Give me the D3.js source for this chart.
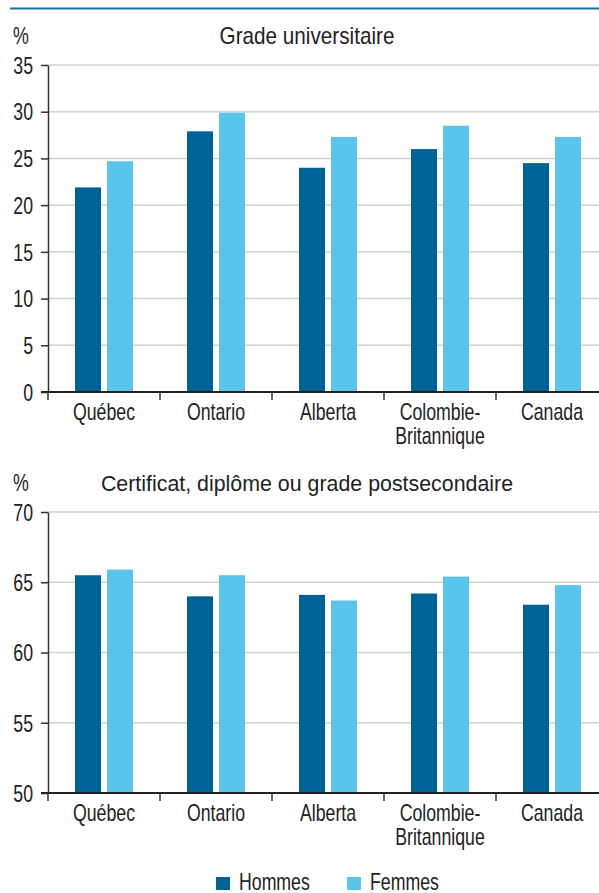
<!DOCTYPE html>
<html>
<head>
<meta charset="utf-8">
<script src="https://cdn.jsdelivr.net/npm/d3@7"></script>
<style>
  body { margin: 0; background: #fff; }
  svg { display: block; font-family: 'Liberation Sans', Arial, sans-serif; }
</style>
</head>
<body>
<svg width="599" height="893"></svg>
<script>
var regions = ['Québec', 'Ontario', 'Alberta', 'Colombie-Britannique', 'Canada']
var sexes = ['Hommes', 'Femmes']
var univMen = [21.9, 27.9, 24.0, 26.0, 24.5]
var univWomen = [24.7, 29.9, 27.3, 28.5, 27.3]
var postMen = [65.5, 64.0, 64.1, 64.2, 63.4]
var postWomen = [65.9, 65.5, 63.7, 65.4, 64.8]
var univTicks = [0, 5, 10, 15, 20, 25, 30, 35]
var postTicks = [50, 55, 60, 65, 70]

var colors = { Hommes: '#006395', Femmes: '#59c5ea' }
var FS = 23      // font size
var NARROW = 0.77 // horizontal squeeze to fake a condensed face

var svg = d3.select('svg')

// condensed text: place at (x, y) then squeeze horizontally
function ctext (parent, x, y, str, sx, anchor) {
  return parent.append('text')
      .attr('transform', 'translate(' + x + ',' + y + ') scale(' + sx + ',1)')
      .attr('text-anchor', anchor || 'start')
      .attr('font-size', FS)
      .attr('fill', '#222')
      .text(str)
}

// thin rule at the top
svg.append('line')
    .attr('x1', 10).attr('x2', 599)
    .attr('y1', 8.5).attr('y2', 8.5)
    .attr('stroke', '#1b6fa0')
    .attr('stroke-width', 2)

function drawPanel (opts) {
  var g = svg.append('g')
  var x = d3.scaleBand().domain(regions).range([48, 608])
  var xs = d3.scaleBand().domain(sexes).range([-29, 29]).paddingInner(0.1875)
  var y = d3.scaleLinear().domain(opts.domain).range([opts.bottom, opts.top])

  ctext(g, 13, opts.top - 21, '%', NARROW)
  ctext(g, 307, opts.top - 21, opts.title, opts.titleScale, 'middle')

  // gridlines
  g.append('g')
    .selectAll('line')
    .data(opts.ticks.slice(1))
    .enter().append('line')
      .attr('x1', 48).attr('x2', 599)
      .attr('y1', d => y(d)).attr('y2', d => y(d))
      .attr('stroke', '#d0d0d0').attr('stroke-width', 1.5)

  // bars
  var rows = regions.map((r, i) => ({ region: r, values: [
    { sex: 'Hommes', v: opts.men[i] },
    { sex: 'Femmes', v: opts.women[i] }
  ] }))
  g.append('g')
    .selectAll('g')
    .data(rows)
    .enter().append('g')
      .attr('transform', d => 'translate(' + (x(d.region) + x.bandwidth() / 2) + ',0)')
    .selectAll('rect')
    .data(d => d.values)
    .enter().append('rect')
      .attr('x', d => xs(d.sex))
      .attr('width', xs.bandwidth())
      .attr('y', d => y(d.v))
      .attr('height', d => opts.bottom - y(d.v))
      .attr('fill', d => colors[d.sex])

  // y axis
  var yAxis = g.append('g')
      .attr('transform', 'translate(48,0)')
      .call(d3.axisLeft(y).tickValues(opts.ticks).tickSize(7).tickSizeOuter(0))
  yAxis.select('.domain').attr('stroke', '#333').attr('stroke-width', 1.5)
  yAxis.selectAll('.tick line').attr('stroke', '#333').attr('stroke-width', 1.5)
  yAxis.selectAll('.tick text')
      .attr('x', 0)
      .attr('dy', '0.36em')
      .attr('transform', 'translate(-15,0) scale(' + NARROW + ',1)')
      .attr('font-size', FS)
      .attr('font-family', "'Liberation Sans', Arial, sans-serif")
      .attr('fill', '#222')

  // x axis line and ticks at band edges
  g.append('line')
      .attr('x1', 41).attr('x2', 599)
      .attr('y1', opts.bottom).attr('y2', opts.bottom)
      .attr('stroke', '#222').attr('stroke-width', 2)
  g.selectAll('.xtick')
    .data(regions)
    .enter().append('line')
      .attr('class', 'xtick')
      .attr('x1', d => x(d)).attr('x2', d => x(d))
      .attr('y1', opts.bottom).attr('y2', opts.bottom + 8)
      .attr('stroke', '#333').attr('stroke-width', 1.5)

  // category labels
  regions.forEach(function (d) {
    var parts = d === 'Colombie-Britannique' ? ['Colombie-', 'Britannique'] : [d]
    parts.forEach(function (p, i) {
      ctext(g, x(d) + x.bandwidth() / 2, opts.bottom + 28 + i * 24, p, NARROW, 'middle')
    })
  })
}

drawPanel({
  title: 'Grade universitaire',
  titleScale: 0.9,
  domain: [0, 35], top: 65, bottom: 392,
  ticks: univTicks, men: univMen, women: univWomen
})
drawPanel({
  title: 'Certificat, diplôme ou grade postsecondaire',
  titleScale: 0.93,
  domain: [50, 70], top: 512, bottom: 793,
  ticks: postTicks, men: postMen, women: postWomen
})

// legend
var legend = svg.append('g')
    .selectAll('g')
    .data(sexes)
    .enter().append('g')
      .attr('transform', (d, i) => 'translate(' + (216 + i * 131) + ',877)')
legend.append('rect')
    .attr('width', 14).attr('height', 13)
    .attr('fill', d => colors[d])
legend.each(function (d) {
  ctext(d3.select(this), 23, 13, d, NARROW)
})
</script>
</body>
</html>
